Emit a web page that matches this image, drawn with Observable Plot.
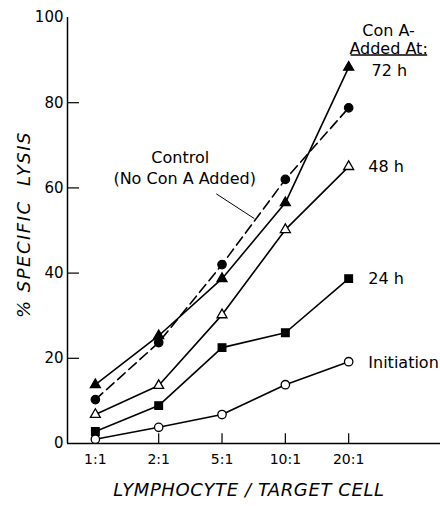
<!DOCTYPE html>
<html>
<head>
<meta charset="utf-8">
<script src="https://cdn.jsdelivr.net/npm/d3@7"></script>
<script src="https://cdn.jsdelivr.net/npm/@observablehq/plot@0.6"></script>
<style>
  body { margin: 0; background: #fff; }
  svg { font-family: "DejaVu Sans", sans-serif; }
  .ytitle text { letter-spacing: 1.5px; }
  .xtitle text { letter-spacing: 0.6px; }
</style>
</head>
<body>
<div id="chart"></div>
<script>
const ratios = ["1:1", "2:1", "5:1", "10:1", "20:1"];
const control = [10.3, 23.7, 42, 62, 78.8];
const h72 = [13.8, 25.3, 38.7, 56.5, 88.3];
const h48 = [6.8, 13.6, 30.2, 50.2, 65];
const h24 = [2.8, 8.9, 22.5, 26, 38.7];
const initiation = [1, 3.8, 6.8, 13.8, 19.2];
const yTicks = [0, 20, 40, 60, 80, 100];

const seriesNames = ["72 h", "Control", "48 h", "24 h", "Initiation"];
const seriesValues = [h72, control, h48, h24, initiation];
const seriesSymbol = ["triangle", "circle", "triangle", "square", "circle"];
const seriesFill = ["black", "black", "white", "black", "white"];
const seriesDash = [null, "10,5", null, null, null];

const rows = seriesNames.flatMap((name, s) =>
  seriesValues[s].map((v, i) => ({series: name, s, i, ratio: ratios[i], value: v})));

const xMin = -0.44, xMax = 5.45;

const labels = [
  {x: 4.36, y: 87.5, text: "72 h"},
  {x: 4.31, y: 65, text: "48 h"},
  {x: 4.31, y: 38.7, text: "24 h"},
  {x: 4.31, y: 19, text: "Initiation"}
];
const notes = [
  {x: 4.63, y: 96.8, text: "Con A-"},
  {x: 4.63, y: 92.6, text: "Added At:"},
  {x: 1.34, y: 67, text: "Control"},
  {x: 1.41, y: 62.1, text: "(No Con A Added)"}
];
const yTitle = "%\u00a0SPECIFIC\u00a0\u00a0LYSIS";
const xTitle = "LYMPHOCYTE / TARGET CELL";

const marks = [
  Plot.ruleY([0], {x1: xMin, x2: xMax, strokeWidth: 1.5}),
  Plot.ruleX([xMin], {y1: 0, y2: 100, strokeWidth: 1.5}),
  Plot.ruleY(yTicks.filter(d => d > 0 && d < 100), {y: d => d, x1: xMin, x2: xMin + 0.19, strokeWidth: 1.2}),
  Plot.ruleX(ratios.map((r, i) => i), {x: d => d, y1: 0, y2: 2.3, strokeWidth: 1.2}),
  Plot.axisY({ticks: yTicks, tickSize: 0, tickPadding: 4, fontSize: 15, label: null}),
  Plot.axisX({ticks: ratios.map((r, i) => i), tickFormat: i => ratios[i], tickSize: 0, tickPadding: 11, fontSize: 14, label: null}),
];

seriesNames.forEach((name, s) => {
  marks.push(Plot.line(rows.filter(d => d.s === s), {
    x: "i", y: "value", stroke: "black", strokeWidth: 1.6,
    strokeDasharray: seriesDash[s] || undefined
  }));
});
seriesNames.forEach((name, s) => {
  marks.push(Plot.dot(rows.filter(d => d.s === s), {
    x: "i", y: "value", symbol: () => seriesSymbol[s], r: seriesSymbol[s] === "circle" ? 4.2 : (seriesSymbol[s] === "triangle" ? 3.7 : 4.3),
    fill: seriesFill[s], stroke: "black", strokeWidth: 1.3
  }));
});

marks.push(
  Plot.text(labels, {x: "x", y: "y", text: "text", textAnchor: "start", fontSize: 16, fill: "black"}),
  Plot.text(notes, {x: "x", y: "y", text: "text", fontSize: 16, fill: "black"}),
  Plot.link([{x1: 4.03, x2: 5.24, y: 91.2}], {x1: "x1", x2: "x2", y1: "y", y2: "y", stroke: "black", strokeWidth: 1.3}),
  Plot.link([{x1: 1.91, y1: 58.6, x2: 2.51, y2: 52.8}], {x1: "x1", y1: "y1", x2: "x2", y2: "y2", stroke: "black", strokeWidth: 1}),
  Plot.text([yTitle], {frameAnchor: "left", textAnchor: "middle", dx: -43, dy: -6, text: d => d, rotate: -90, fontSize: 18, fontStyle: "italic", fill: "black", className: "ytitle"}),
  Plot.text([xTitle], {frameAnchor: "bottom", dy: 52, dx: -5, text: d => d, fontSize: 18, fontStyle: "italic", fill: "black", className: "xtitle"})
);

const chart = Plot.plot({
  width: 440,
  height: 506,
  marginLeft: 67,
  marginRight: 0,
  marginTop: 17,
  marginBottom: 63,
  style: {fontFamily: "DejaVu Sans, sans-serif", background: "white", overflow: "visible"},
  x: {type: "linear", domain: [xMin, xMax], axis: null},
  y: {domain: [0, 100], axis: null},
  marks
});
document.getElementById("chart").appendChild(chart);
</script>
</body>
</html>
